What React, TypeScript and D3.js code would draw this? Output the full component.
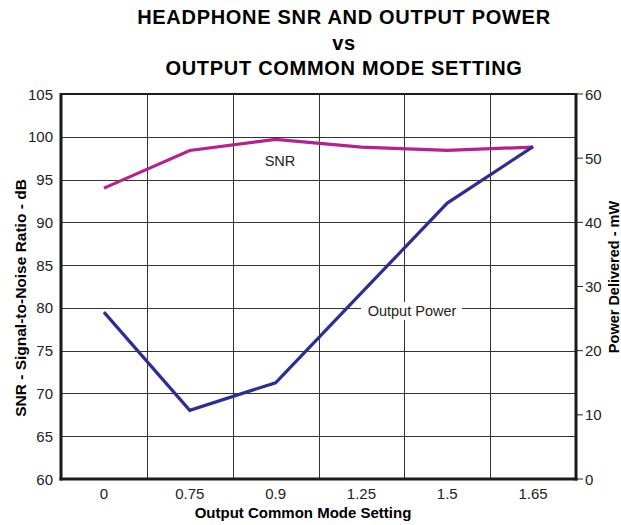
import React, { useRef, useEffect } from "react";
import * as d3 from "d3";

const settings = ["0", "0.75", "0.9", "1.25", "1.5", "1.65"];
const snr = [94.0, 98.4, 99.7, 98.8, 98.4, 98.8];
const power = [26.0, 10.7, 15.0, 29.0, 43.0, 51.8];
const snrTicks = [60, 65, 70, 75, 80, 85, 90, 95, 100, 105];
const powerTicks = [0, 10, 20, 30, 40, 50, 60];
const titleLines = ["HEADPHONE SNR AND OUTPUT POWER", "vs", "OUTPUT COMMON MODE SETTING"];

const App = () => {
  const ref = useRef<SVGSVGElement>(null);

  useEffect(() => {
    const svg = d3.select(ref.current);
    svg.selectAll("*").remove();
    const font = "'Liberation Sans', Arial, sans-serif";
    const left = 61;
    const right = 576;
    const top = 94;
    const bottom = 479;

    const x = d3.scaleBand().domain(settings).range([left, right]);
    const yL = d3.scaleLinear().domain([60, 105]).range([bottom, top]);
    const yR = d3.scaleLinear().domain([0, 60]).range([bottom, top]);

    // title
    svg
      .selectAll(".title")
      .data(titleLines)
      .join("text")
      .attr("x", 344)
      .attr("y", (d, i) => 24 + i * 25.5)
      .attr("text-anchor", "middle")
      .attr("font-family", font)
      .attr("font-weight", "bold")
      .attr("font-size", 20)
      .attr("letter-spacing", 0.7)
      .text((d) => d);

    // grid
    svg
      .selectAll(".hgrid")
      .data(snrTicks.slice(1, -1))
      .join("line")
      .attr("x1", left)
      .attr("x2", right)
      .attr("y1", (d) => Math.round(yL(d)) + 0.5)
      .attr("y2", (d) => Math.round(yL(d)) + 0.5)
      .attr("stroke", "#333")
      .attr("stroke-width", 1);

    svg
      .selectAll(".vgrid")
      .data(settings.slice(1))
      .join("line")
      .attr("x1", (d) => Math.round(x(d)!) + 0.5)
      .attr("x2", (d) => Math.round(x(d)!) + 0.5)
      .attr("y1", top)
      .attr("y2", bottom)
      .attr("stroke", "#333")
      .attr("stroke-width", 1);

    // labels on plot
    svg
      .append("rect")
      .attr("x", 361)
      .attr("y", 302)
      .attr("width", 101)
      .attr("height", 18)
      .attr("fill", "#fff");
    svg
      .append("text")
      .attr("x", 412)
      .attr("y", 316)
      .attr("text-anchor", "middle")
      .attr("font-family", font)
      .attr("font-size", 14.5)
      .attr("fill", "#222")
      .text("Output Power");
    svg
      .append("text")
      .attr("x", 280)
      .attr("y", 166)
      .attr("text-anchor", "middle")
      .attr("font-family", font)
      .attr("font-size", 14.5)
      .attr("fill", "#222")
      .text("SNR");

    const cx = (i: number) => x(settings[i])! + x.bandwidth() / 2;

    const snrLine = d3
      .line<number>()
      .x((d, i) => cx(i))
      .y((d) => yL(d));
    const powerLine = d3
      .line<number>()
      .x((d, i) => cx(i))
      .y((d) => yR(d));

    svg
      .append("path")
      .attr("d", snrLine(snr))
      .attr("fill", "none")
      .attr("stroke", "#b4228f")
      .attr("stroke-width", 3.2);
    svg
      .append("path")
      .attr("d", powerLine(power))
      .attr("fill", "none")
      .attr("stroke", "#2c2f91")
      .attr("stroke-width", 3.2);

    // frame
    svg
      .append("line")
      .attr("x1", left - 1)
      .attr("x2", right + 1)
      .attr("y1", top)
      .attr("y2", top)
      .attr("stroke", "#1a1a1a")
      .attr("stroke-width", 2);
    svg
      .append("line")
      .attr("x1", left - 1.5)
      .attr("x2", right + 1.5)
      .attr("y1", bottom)
      .attr("y2", bottom)
      .attr("stroke", "#1a1a1a")
      .attr("stroke-width", 3);
    svg
      .append("line")
      .attr("x1", left)
      .attr("x2", left)
      .attr("y1", top - 1)
      .attr("y2", bottom + 1.5)
      .attr("stroke", "#1a1a1a")
      .attr("stroke-width", 3);
    svg
      .append("line")
      .attr("x1", right)
      .attr("x2", right)
      .attr("y1", top - 1)
      .attr("y2", bottom + 1.5)
      .attr("stroke", "#1a1a1a")
      .attr("stroke-width", 3);

    // left ticks labels
    svg
      .selectAll(".ltick")
      .data(snrTicks)
      .join("text")
      .attr("x", 53)
      .attr("y", (d) => yL(d) + 5.5)
      .attr("text-anchor", "end")
      .attr("font-family", font)
      .attr("font-size", 15)
      .attr("fill", "#222")
      .text((d) => d);

    // right ticks
    svg
      .selectAll(".rtickmark")
      .data(powerTicks)
      .join("line")
      .attr("x1", right)
      .attr("x2", right + 7)
      .attr("y1", (d) => yR(d))
      .attr("y2", (d) => yR(d))
      .attr("stroke", "#222")
      .attr("stroke-width", 1);
    svg
      .selectAll(".rtick")
      .data(powerTicks)
      .join("text")
      .attr("x", 585)
      .attr("y", (d) => yR(d) + 5.5)
      .attr("text-anchor", "start")
      .attr("font-family", font)
      .attr("font-size", 15)
      .attr("fill", "#222")
      .text((d) => d);

    // x tick labels
    svg
      .selectAll(".xtick")
      .data(settings)
      .join("text")
      .attr("x", (d) => x(d)! + x.bandwidth() / 2)
      .attr("y", 499)
      .attr("text-anchor", "middle")
      .attr("font-family", font)
      .attr("font-size", 15)
      .attr("fill", "#222")
      .text((d) => d);

    // axis titles
    svg
      .append("text")
      .attr("x", 303)
      .attr("y", 518)
      .attr("text-anchor", "middle")
      .attr("font-family", font)
      .attr("font-weight", "bold")
      .attr("font-size", 15)
      .text("Output Common Mode Setting");
    svg
      .append("text")
      .attr("transform", "translate(26,298) rotate(-90)")
      .attr("text-anchor", "middle")
      .attr("font-family", font)
      .attr("font-weight", "bold")
      .attr("font-size", 15.5)
      .text("SNR - Signal-to-Noise Ratio - dB");
    svg
      .append("text")
      .attr("transform", "translate(619,277) rotate(-90)")
      .attr("text-anchor", "middle")
      .attr("font-family", font)
      .attr("font-weight", "bold")
      .attr("font-size", 14.5)
      .text("Power Delivered - mW");
  }, []);

  return (
    <svg
      ref={ref}
      width={621}
      height={525}
      style={{ position: "absolute", left: 0, top: 0, background: "#fff" }}
    ></svg>
  );
};

export default App;
